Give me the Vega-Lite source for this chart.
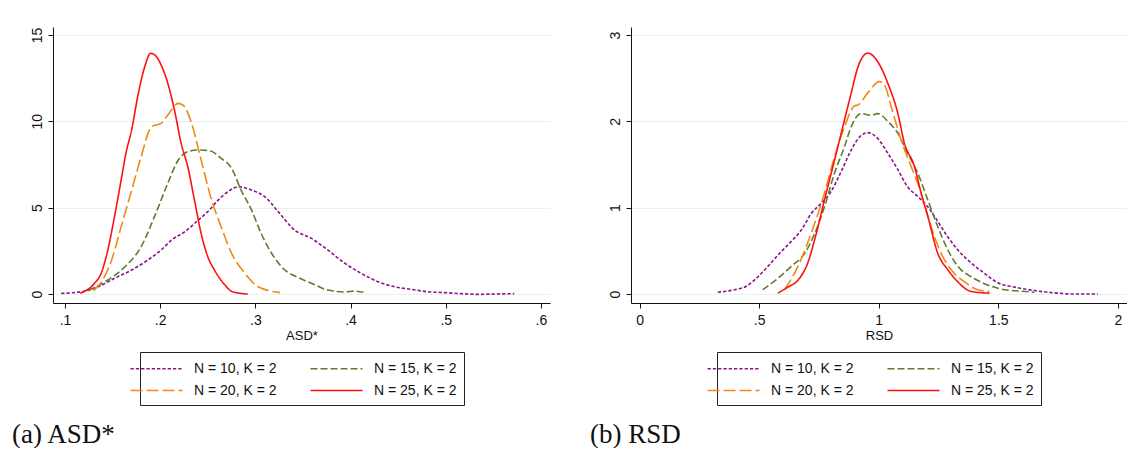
{
  "$schema": "https://vega.github.io/schema/vega-lite/v6.json",
  "background": "white",
  "padding": {"left": 12, "top": 27, "right": 0, "bottom": 0},
  "bounds": "flush",
  "spacing": 81,
  "config": {
    "font": "Liberation Sans",
    "view": {"stroke": null},
    "axis": {
      "domainColor": "#111111",
      "tickColor": "#111111",
      "labelColor": "#111111",
      "labelFont": "Liberation Sans",
      "labelFontSize": 14,
      "tickSize": 5,
      "titleFont": "Liberation Sans",
      "titleFontSize": 13,
      "titleFontWeight": "normal",
      "titleColor": "#111111",
      "titlePadding": 2,
      "gridColor": "#e8f0f2",
      "gridWidth": 1.2
    },
    "legend": {
      "orient": "bottom",
      "direction": "horizontal",
      "columns": 2,
      "layout": {"anchor": "middle", "bottom": {"anchor": "middle"}},
      "symbolType": "M-3,0H3",
      "symbolSize": 300,
      "symbolStrokeWidth": 1.6,
      "labelFont": "Liberation Sans",
      "labelFontSize": 14,
      "labelColor": "#111111",
      "strokeColor": "#222222",
      "fillColor": "white",
      "padding": 7,
      "rowPadding": 5,
      "columnPadding": 30,
      "labelOffset": 28,
      "offset": 10
    },
    "title": {
      "orient": "bottom",
      "anchor": "start",
      "frame": "bounds",
      "font": "Liberation Serif",
      "fontSize": 27,
      "fontWeight": "normal",
      "color": "#111111",
      "offset": 16,
      "dx": -18
    }
  },
  "datasets": {
    "asd": [
      {"series": "N = 10, K = 2", "x": 0.096, "y": 0.04},
      {"series": "N = 10, K = 2", "x": 0.117, "y": 0.13},
      {"series": "N = 10, K = 2", "x": 0.135, "y": 0.42},
      {"series": "N = 10, K = 2", "x": 0.152, "y": 0.91},
      {"series": "N = 10, K = 2", "x": 0.170, "y": 1.39},
      {"series": "N = 10, K = 2", "x": 0.187, "y": 1.97},
      {"series": "N = 10, K = 2", "x": 0.201, "y": 2.55},
      {"series": "N = 10, K = 2", "x": 0.212, "y": 3.13},
      {"series": "N = 10, K = 2", "x": 0.226, "y": 3.61},
      {"series": "N = 10, K = 2", "x": 0.240, "y": 4.28},
      {"series": "N = 10, K = 2", "x": 0.250, "y": 4.77},
      {"series": "N = 10, K = 2", "x": 0.261, "y": 5.44},
      {"series": "N = 10, K = 2", "x": 0.271, "y": 5.92},
      {"series": "N = 10, K = 2", "x": 0.282, "y": 6.21},
      {"series": "N = 10, K = 2", "x": 0.296, "y": 6.02},
      {"series": "N = 10, K = 2", "x": 0.310, "y": 5.63},
      {"series": "N = 10, K = 2", "x": 0.324, "y": 4.77},
      {"series": "N = 10, K = 2", "x": 0.341, "y": 3.71},
      {"series": "N = 10, K = 2", "x": 0.359, "y": 3.22},
      {"series": "N = 10, K = 2", "x": 0.376, "y": 2.55},
      {"series": "N = 10, K = 2", "x": 0.394, "y": 1.78},
      {"series": "N = 10, K = 2", "x": 0.411, "y": 1.2},
      {"series": "N = 10, K = 2", "x": 0.429, "y": 0.71},
      {"series": "N = 10, K = 2", "x": 0.446, "y": 0.42},
      {"series": "N = 10, K = 2", "x": 0.464, "y": 0.27},
      {"series": "N = 10, K = 2", "x": 0.481, "y": 0.13},
      {"series": "N = 10, K = 2", "x": 0.499, "y": 0.08},
      {"series": "N = 10, K = 2", "x": 0.516, "y": 0.02},
      {"series": "N = 10, K = 2", "x": 0.534, "y": -0.02},
      {"series": "N = 10, K = 2", "x": 0.551, "y": 0.0},
      {"series": "N = 10, K = 2", "x": 0.572, "y": 0.02},
      {"series": "N = 15, K = 2", "x": 0.124, "y": 0.19},
      {"series": "N = 15, K = 2", "x": 0.145, "y": 0.81},
      {"series": "N = 15, K = 2", "x": 0.163, "y": 1.58},
      {"series": "N = 15, K = 2", "x": 0.180, "y": 2.74},
      {"series": "N = 15, K = 2", "x": 0.194, "y": 4.48},
      {"series": "N = 15, K = 2", "x": 0.208, "y": 6.41},
      {"series": "N = 15, K = 2", "x": 0.219, "y": 7.76},
      {"series": "N = 15, K = 2", "x": 0.229, "y": 8.24},
      {"series": "N = 15, K = 2", "x": 0.240, "y": 8.34},
      {"series": "N = 15, K = 2", "x": 0.252, "y": 8.30},
      {"series": "N = 15, K = 2", "x": 0.264, "y": 7.86},
      {"series": "N = 15, K = 2", "x": 0.275, "y": 7.28},
      {"series": "N = 15, K = 2", "x": 0.285, "y": 6.02},
      {"series": "N = 15, K = 2", "x": 0.296, "y": 4.86},
      {"series": "N = 15, K = 2", "x": 0.306, "y": 3.51},
      {"series": "N = 15, K = 2", "x": 0.317, "y": 2.36},
      {"series": "N = 15, K = 2", "x": 0.331, "y": 1.39},
      {"series": "N = 15, K = 2", "x": 0.345, "y": 0.95},
      {"series": "N = 15, K = 2", "x": 0.360, "y": 0.6},
      {"series": "N = 15, K = 2", "x": 0.376, "y": 0.23},
      {"series": "N = 15, K = 2", "x": 0.394, "y": 0.12},
      {"series": "N = 15, K = 2", "x": 0.404, "y": 0.17},
      {"series": "N = 15, K = 2", "x": 0.415, "y": 0.08},
      {"series": "N = 20, K = 2", "x": 0.130, "y": 0.2},
      {"series": "N = 20, K = 2", "x": 0.137, "y": 0.6},
      {"series": "N = 20, K = 2", "x": 0.149, "y": 1.97},
      {"series": "N = 20, K = 2", "x": 0.159, "y": 3.9},
      {"series": "N = 20, K = 2", "x": 0.170, "y": 6.0},
      {"series": "N = 20, K = 2", "x": 0.180, "y": 7.95},
      {"series": "N = 20, K = 2", "x": 0.191, "y": 9.69},
      {"series": "N = 20, K = 2", "x": 0.201, "y": 9.88},
      {"series": "N = 20, K = 2", "x": 0.208, "y": 10.36},
      {"series": "N = 20, K = 2", "x": 0.219, "y": 11.04},
      {"series": "N = 20, K = 2", "x": 0.224, "y": 10.94},
      {"series": "N = 20, K = 2", "x": 0.233, "y": 9.88},
      {"series": "N = 20, K = 2", "x": 0.243, "y": 7.76},
      {"series": "N = 20, K = 2", "x": 0.254, "y": 5.44},
      {"series": "N = 20, K = 2", "x": 0.264, "y": 3.9},
      {"series": "N = 20, K = 2", "x": 0.275, "y": 2.36},
      {"series": "N = 20, K = 2", "x": 0.289, "y": 1.2},
      {"series": "N = 20, K = 2", "x": 0.303, "y": 0.42},
      {"series": "N = 20, K = 2", "x": 0.326, "y": 0.08},
      {"series": "N = 25, K = 2", "x": 0.116, "y": 0.04},
      {"series": "N = 25, K = 2", "x": 0.131, "y": 0.62},
      {"series": "N = 25, K = 2", "x": 0.138, "y": 1.2},
      {"series": "N = 25, K = 2", "x": 0.145, "y": 2.55},
      {"series": "N = 25, K = 2", "x": 0.152, "y": 4.48},
      {"series": "N = 25, K = 2", "x": 0.159, "y": 6.6},
      {"series": "N = 25, K = 2", "x": 0.164, "y": 8.15},
      {"series": "N = 25, K = 2", "x": 0.170, "y": 9.5},
      {"series": "N = 25, K = 2", "x": 0.177, "y": 11.6},
      {"series": "N = 25, K = 2", "x": 0.184, "y": 13.2},
      {"series": "N = 25, K = 2", "x": 0.190, "y": 13.94},
      {"series": "N = 25, K = 2", "x": 0.196, "y": 13.75},
      {"series": "N = 25, K = 2", "x": 0.201, "y": 13.26},
      {"series": "N = 25, K = 2", "x": 0.208, "y": 12.2},
      {"series": "N = 25, K = 2", "x": 0.215, "y": 10.65},
      {"series": "N = 25, K = 2", "x": 0.222, "y": 8.73},
      {"series": "N = 25, K = 2", "x": 0.229, "y": 7.37},
      {"series": "N = 25, K = 2", "x": 0.236, "y": 5.44},
      {"series": "N = 25, K = 2", "x": 0.243, "y": 3.51},
      {"series": "N = 25, K = 2", "x": 0.250, "y": 2.16},
      {"series": "N = 25, K = 2", "x": 0.257, "y": 1.39},
      {"series": "N = 25, K = 2", "x": 0.268, "y": 0.52},
      {"series": "N = 25, K = 2", "x": 0.276, "y": 0.13},
      {"series": "N = 25, K = 2", "x": 0.292, "y": 0.0}
    ],
    "rsd": [
      {"series": "N = 10, K = 2", "x": 0.327, "y": 0.02},
      {"series": "N = 10, K = 2", "x": 0.397, "y": 0.05},
      {"series": "N = 10, K = 2", "x": 0.446, "y": 0.09},
      {"series": "N = 10, K = 2", "x": 0.495, "y": 0.2},
      {"series": "N = 10, K = 2", "x": 0.536, "y": 0.32},
      {"series": "N = 10, K = 2", "x": 0.578, "y": 0.45},
      {"series": "N = 10, K = 2", "x": 0.634, "y": 0.61},
      {"series": "N = 10, K = 2", "x": 0.676, "y": 0.74},
      {"series": "N = 10, K = 2", "x": 0.717, "y": 0.93},
      {"series": "N = 10, K = 2", "x": 0.759, "y": 1.05},
      {"series": "N = 10, K = 2", "x": 0.801, "y": 1.19},
      {"series": "N = 10, K = 2", "x": 0.843, "y": 1.42},
      {"series": "N = 10, K = 2", "x": 0.885, "y": 1.67},
      {"series": "N = 10, K = 2", "x": 0.920, "y": 1.82},
      {"series": "N = 10, K = 2", "x": 0.954, "y": 1.87},
      {"series": "N = 10, K = 2", "x": 0.996, "y": 1.80},
      {"series": "N = 10, K = 2", "x": 1.038, "y": 1.63},
      {"series": "N = 10, K = 2", "x": 1.080, "y": 1.44},
      {"series": "N = 10, K = 2", "x": 1.121, "y": 1.24},
      {"series": "N = 10, K = 2", "x": 1.163, "y": 1.13},
      {"series": "N = 10, K = 2", "x": 1.205, "y": 1.01},
      {"series": "N = 10, K = 2", "x": 1.247, "y": 0.84},
      {"series": "N = 10, K = 2", "x": 1.289, "y": 0.66},
      {"series": "N = 10, K = 2", "x": 1.331, "y": 0.51},
      {"series": "N = 10, K = 2", "x": 1.386, "y": 0.36},
      {"series": "N = 10, K = 2", "x": 1.442, "y": 0.24},
      {"series": "N = 10, K = 2", "x": 1.498, "y": 0.13},
      {"series": "N = 10, K = 2", "x": 1.568, "y": 0.08},
      {"series": "N = 10, K = 2", "x": 1.651, "y": 0.04},
      {"series": "N = 10, K = 2", "x": 1.749, "y": 0.01},
      {"series": "N = 10, K = 2", "x": 1.819, "y": 0.0},
      {"series": "N = 10, K = 2", "x": 1.916, "y": 0.0},
      {"series": "N = 15, K = 2", "x": 0.515, "y": 0.05},
      {"series": "N = 15, K = 2", "x": 0.578, "y": 0.18},
      {"series": "N = 15, K = 2", "x": 0.634, "y": 0.32},
      {"series": "N = 15, K = 2", "x": 0.690, "y": 0.47},
      {"series": "N = 15, K = 2", "x": 0.732, "y": 0.70},
      {"series": "N = 15, K = 2", "x": 0.773, "y": 1.01},
      {"series": "N = 15, K = 2", "x": 0.815, "y": 1.40},
      {"series": "N = 15, K = 2", "x": 0.857, "y": 1.71},
      {"series": "N = 15, K = 2", "x": 0.885, "y": 1.94},
      {"series": "N = 15, K = 2", "x": 0.926, "y": 2.09},
      {"series": "N = 15, K = 2", "x": 0.968, "y": 2.07},
      {"series": "N = 15, K = 2", "x": 0.996, "y": 2.09},
      {"series": "N = 15, K = 2", "x": 1.038, "y": 2.00},
      {"series": "N = 15, K = 2", "x": 1.080, "y": 1.86},
      {"series": "N = 15, K = 2", "x": 1.121, "y": 1.63},
      {"series": "N = 15, K = 2", "x": 1.163, "y": 1.40},
      {"series": "N = 15, K = 2", "x": 1.205, "y": 1.09},
      {"series": "N = 15, K = 2", "x": 1.247, "y": 0.78},
      {"series": "N = 15, K = 2", "x": 1.289, "y": 0.51},
      {"series": "N = 15, K = 2", "x": 1.331, "y": 0.32},
      {"series": "N = 15, K = 2", "x": 1.386, "y": 0.20},
      {"series": "N = 15, K = 2", "x": 1.442, "y": 0.12},
      {"series": "N = 15, K = 2", "x": 1.526, "y": 0.05},
      {"series": "N = 15, K = 2", "x": 1.610, "y": 0.03},
      {"series": "N = 15, K = 2", "x": 1.651, "y": 0.02},
      {"series": "N = 20, K = 2", "x": 0.606, "y": 0.05},
      {"series": "N = 20, K = 2", "x": 0.662, "y": 0.32},
      {"series": "N = 20, K = 2", "x": 0.717, "y": 0.70},
      {"series": "N = 20, K = 2", "x": 0.773, "y": 1.17},
      {"series": "N = 20, K = 2", "x": 0.815, "y": 1.59},
      {"series": "N = 20, K = 2", "x": 0.857, "y": 1.94},
      {"series": "N = 20, K = 2", "x": 0.899, "y": 2.18},
      {"series": "N = 20, K = 2", "x": 0.913, "y": 2.19},
      {"series": "N = 20, K = 2", "x": 0.954, "y": 2.33},
      {"series": "N = 20, K = 2", "x": 1.003, "y": 2.46},
      {"series": "N = 20, K = 2", "x": 1.024, "y": 2.42},
      {"series": "N = 20, K = 2", "x": 1.052, "y": 2.17},
      {"series": "N = 20, K = 2", "x": 1.094, "y": 1.78},
      {"series": "N = 20, K = 2", "x": 1.135, "y": 1.48},
      {"series": "N = 20, K = 2", "x": 1.177, "y": 1.17},
      {"series": "N = 20, K = 2", "x": 1.219, "y": 0.78},
      {"series": "N = 20, K = 2", "x": 1.261, "y": 0.47},
      {"series": "N = 20, K = 2", "x": 1.303, "y": 0.28},
      {"series": "N = 20, K = 2", "x": 1.359, "y": 0.14},
      {"series": "N = 20, K = 2", "x": 1.414, "y": 0.05},
      {"series": "N = 20, K = 2", "x": 1.463, "y": 0.03},
      {"series": "N = 25, K = 2", "x": 0.578, "y": 0.01},
      {"series": "N = 25, K = 2", "x": 0.620, "y": 0.08},
      {"series": "N = 25, K = 2", "x": 0.662, "y": 0.16},
      {"series": "N = 25, K = 2", "x": 0.703, "y": 0.36},
      {"series": "N = 25, K = 2", "x": 0.732, "y": 0.63},
      {"series": "N = 25, K = 2", "x": 0.773, "y": 1.09},
      {"series": "N = 25, K = 2", "x": 0.815, "y": 1.55},
      {"series": "N = 25, K = 2", "x": 0.857, "y": 2.02},
      {"series": "N = 25, K = 2", "x": 0.885, "y": 2.33},
      {"series": "N = 25, K = 2", "x": 0.913, "y": 2.63},
      {"series": "N = 25, K = 2", "x": 0.954, "y": 2.79},
      {"series": "N = 25, K = 2", "x": 0.996, "y": 2.69},
      {"series": "N = 25, K = 2", "x": 1.038, "y": 2.44},
      {"series": "N = 25, K = 2", "x": 1.080, "y": 2.09},
      {"series": "N = 25, K = 2", "x": 1.107, "y": 1.75},
      {"series": "N = 25, K = 2", "x": 1.149, "y": 1.48},
      {"series": "N = 25, K = 2", "x": 1.177, "y": 1.17},
      {"series": "N = 25, K = 2", "x": 1.205, "y": 0.90},
      {"series": "N = 25, K = 2", "x": 1.247, "y": 0.47},
      {"series": "N = 25, K = 2", "x": 1.289, "y": 0.28},
      {"series": "N = 25, K = 2", "x": 1.331, "y": 0.14},
      {"series": "N = 25, K = 2", "x": 1.386, "y": 0.03},
      {"series": "N = 25, K = 2", "x": 1.463, "y": 0.01}
    ]
  },
  "resolve": {"scale": {"color": "independent", "strokeDash": "independent"}, "legend": {"color": "independent", "strokeDash": "independent"}},
  "hconcat": [
    {
      "width": 497,
      "height": 276,
      "title": {"text": "(a) ASD*"},
      "data": {"name": "asd"},
      "mark": {"type": "line", "interpolate": "monotone", "strokeWidth": 1.6, "clip": true},
      "encoding": {
        "x": {"field": "x", "type": "quantitative", "title": "ASD*",
              "scale": {"domain": [0.0874, 0.6095], "nice": false, "zero": false},
              "axis": {"values": [0.1, 0.2, 0.3, 0.4, 0.5, 0.6], "grid": false, "format": ".1f",
                       "labelExpr": "datum.value > 0 && datum.value < 1 ? substring(datum.label, 1) : datum.label",
                       "labelPadding": 5}},
        "y": {"field": "y", "type": "quantitative",
              "scale": {"domain": [-0.52, 15.46], "nice": false, "zero": false},
              "axis": {"values": [0, 5, 10, 15], "title": null, "grid": true, "labelAngle": -90, "labelPadding": 4}},
        "color": {"field": "series", "type": "nominal", "title": null,
                  "scale": {"domain": ["N = 10, K = 2", "N = 15, K = 2", "N = 20, K = 2", "N = 25, K = 2"],
                            "range": ["#8b148b", "#5c7f2e", "#ef8a17", "#ff1010"]}},
        "strokeDash": {"field": "series", "type": "nominal", "title": null,
                       "scale": {"domain": ["N = 10, K = 2", "N = 15, K = 2", "N = 20, K = 2", "N = 25, K = 2"],
                                 "range": [[3.3, 2], [7, 3], [12, 4], [1, 0]]}}
      }
    },
    {
      "width": 496,
      "height": 276,
      "title": {"text": "(b) RSD"},
      "data": {"name": "rsd"},
      "mark": {"type": "line", "interpolate": "monotone", "strokeWidth": 1.6, "clip": true},
      "encoding": {
        "x": {"field": "x", "type": "quantitative", "title": "RSD",
              "scale": {"domain": [-0.036, 2.038], "nice": false, "zero": false},
              "axis": {"values": [0, 0.5, 1, 1.5, 2], "grid": false, "format": ".1~f",
                       "labelExpr": "datum.value > 0 && datum.value < 1 ? substring(datum.label, 1) : datum.label",
                       "labelPadding": 5}},
        "y": {"field": "y", "type": "quantitative",
              "scale": {"domain": [-0.104, 3.093], "nice": false, "zero": false},
              "axis": {"values": [0, 1, 2, 3], "title": null, "grid": true, "labelAngle": -90, "labelPadding": 4}},
        "color": {"field": "series", "type": "nominal", "title": null,
                  "scale": {"domain": ["N = 10, K = 2", "N = 15, K = 2", "N = 20, K = 2", "N = 25, K = 2"],
                            "range": ["#8b148b", "#5c7f2e", "#ef8a17", "#ff1010"]}},
        "strokeDash": {"field": "series", "type": "nominal", "title": null,
                       "scale": {"domain": ["N = 10, K = 2", "N = 15, K = 2", "N = 20, K = 2", "N = 25, K = 2"],
                                 "range": [[3.3, 2], [7, 3], [12, 4], [1, 0]]}}
      }
    }
  ]
}
